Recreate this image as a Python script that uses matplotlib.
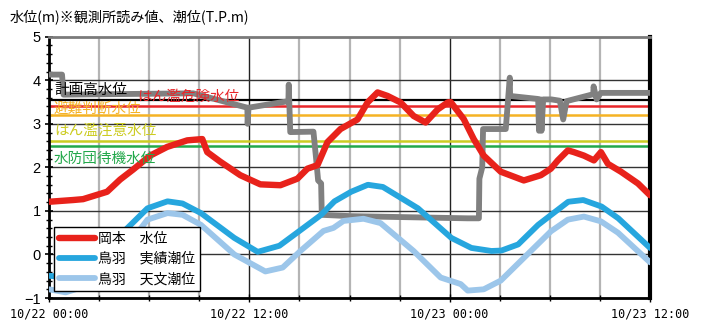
import matplotlib
matplotlib.use("Agg")
from matplotlib import pyplot as plt
from matplotlib.ticker import MultipleLocator

plt.rcParams['font.family'] = ['Noto Sans CJK JP', 'DejaVu Sans']

# hours from 10/22 00:00
okamoto_h = [0, 1.44, 2.04, 3.48, 4.26, 5.04, 6.06, 7.08, 8.28, 9.18, 9.48, 10.26, 11.46,
             12.66, 13.86, 14.88, 15.48, 16.08, 16.68, 17.46, 18.48, 19.08, 19.68, 20.28,
             21.06, 21.84, 22.56, 23.28, 23.88, 24.06, 24.84, 25.44, 26.04, 27.06, 28.44,
             29.46, 30.06, 30.48, 31.08, 31.44, 32.04, 32.64, 33.06, 33.48, 34.26, 35.28, 36.0]
okamoto_v = [1.21, 1.25, 1.27, 1.44, 1.72, 1.95, 2.27, 2.47, 2.62, 2.65, 2.35, 2.13, 1.82,
             1.61, 1.59, 1.74, 1.97, 2.05, 2.58, 2.88, 3.10, 3.49, 3.72, 3.64,
             3.49, 3.18, 3.03, 3.33, 3.49, 3.50, 3.11, 2.65, 2.27, 1.90, 1.70,
             1.82, 1.97, 2.16, 2.39, 2.35, 2.27, 2.16, 2.35, 2.08, 1.90, 1.63, 1.36]

toba_obs_h = [0, 1, 2, 3, 4, 4.6, 5.9, 7.1, 8.0, 9.1, 11.1, 12.5, 13.8, 15.0, 16.3, 17.1,
              18.1, 19.1, 20.0, 22.1, 24.1, 25.3, 26.5, 27.1, 28.1, 29.3, 31.1, 32.0, 33.1,
              34.1, 36.0]
toba_obs_v = [-0.49, -0.52, -0.38, -0.05, 0.35, 0.57, 1.06, 1.22, 1.17, 0.95, 0.38, 0.06,
              0.20, 0.54, 0.91, 1.22, 1.44, 1.60, 1.55, 1.06, 0.38, 0.15, 0.08, 0.09, 0.23,
              0.68, 1.21, 1.25, 1.10, 0.83, 0.15]

toba_ast_h = [0, 1, 2, 3, 4, 5, 5.9, 7.1, 8.0, 9.1, 11.1, 12.96, 14.0, 15.06, 16.44, 17.04,
              17.64, 18.84, 19.86, 21.84, 23.46, 24.66, 25.08, 26.04, 27.06, 30.06, 31.08,
              32.04, 33.06, 34.08, 36.0]
toba_ast_v = [-0.80, -0.87, -0.75, -0.45, -0.05, 0.35, 0.80, 0.95, 0.91, 0.68, 0.0, -0.39,
              -0.30, 0.08, 0.54, 0.61, 0.77, 0.82, 0.72, 0.08, -0.53, -0.68, -0.83, -0.80,
              -0.60, 0.53, 0.80, 0.87, 0.76, 0.50, -0.18]

gray_h = [0, 0.78, 0.87, 8.64, 11.88, 11.9, 11.95, 14.34, 14.36, 14.45, 15.84, 16.0, 16.12,
          16.3, 16.34, 18.06, 25.07, 25.75, 25.78, 25.95, 26.0, 27.36, 27.6, 27.62, 29.3,
          29.35, 29.45, 29.5, 29.6, 30.1, 30.6, 30.8, 31.0, 32.6, 32.62, 32.8, 33.05, 36.0]
gray_v = [4.13, 4.13, 3.67, 3.70, 3.37, 3.00, 3.37, 3.52, 3.90, 2.81, 2.82, 2.20, 1.70,
          1.63, 0.91, 0.88, 0.83, 0.83, 1.74, 2.00, 2.88, 2.88, 4.06, 3.64, 3.57,
          2.84, 3.56, 2.84, 3.56, 3.56, 3.53, 3.10, 3.52, 3.68, 3.86, 3.56, 3.71, 3.71]

level_names = ['計画高水位', 'はん濫危険水位', '避難判断水位', 'はん濫注意水位', '水防団待機水位']
level_values = [3.55, 3.40, 3.20, 2.60, 2.50]
level_colors = ['#000000', '#e8262a', '#f5b324', '#cccc22', '#22a84a']

x_ticks = [0, 12, 24, 36]
x_labels = ['10/22 00:00', '10/22 12:00', '10/23 00:00', '10/23 12:00']

fig = plt.figure(figsize=(7.06, 3.24), dpi=100)
ax = fig.add_axes([0.0694, 0.0802, 0.8513, 0.8065])

# grid
for h in range(3, 36, 3):
    if h % 12 == 0:
        ax.axvline(h, color='#222222', lw=1.0, zorder=1)
    else:
        ax.axvline(h, color='#b4b4b4', lw=1.6, zorder=1)
for v in range(-1, 5):
    ax.axhline(v, color='#333333', lw=1.0, zorder=1)

# level lines
for v, c in zip(level_values, level_colors):
    ax.axhline(v, color=c, lw=1.8 if c != '#000000' else 1.6, zorder=2)

ax.text(0.3, 3.78, level_names[0], color=level_colors[0], fontsize=10.5, va='center', zorder=6)
ax.text(5.3, 3.63, level_names[1], color=level_colors[1], fontsize=10.5, va='center', zorder=6)
ax.text(0.3, 3.34, level_names[2], color=level_colors[2], fontsize=10.5, va='center', zorder=6)
ax.text(0.3, 2.83, level_names[3], color=level_colors[3], fontsize=10.5, va='center', zorder=6)
ax.text(0.3, 2.2, level_names[4], color=level_colors[4], fontsize=10.5, va='center', zorder=6)

kw = dict(solid_capstyle='round', solid_joinstyle='round')
ax.plot(gray_h, gray_v, color='#808080', lw=4.2, zorder=3, **kw)
ax.plot(okamoto_h, okamoto_v, color='#e8221b', lw=4.6, zorder=4, label='岡本　水位', **kw)
ax.plot(toba_obs_h, toba_obs_v, color='#26a6de', lw=4.2, zorder=5, label='鳥羽　実績潮位', **kw)
ax.plot(toba_ast_h, toba_ast_v, color='#9cc6ea', lw=4.2, zorder=5, label='鳥羽　天文潮位', **kw)

ax.set_xlim(0, 36)
ax.set_ylim(-1, 5)
ax.set_xticks(x_ticks)
ax.set_xticklabels(x_labels, family='DejaVu Sans Mono', fontsize=8.5)
ax.xaxis.set_minor_locator(MultipleLocator(3))
ax.set_yticks(range(-1, 6))
ax.set_yticklabels(['−1', '0', '1', '2', '3', '4', '5'], family='Liberation Sans', fontsize=10.5)
ax.yaxis.set_minor_locator(MultipleLocator(0.2))
ax.tick_params(axis='x', which='major', length=6, width=1, direction='inout', pad=4)
ax.tick_params(axis='x', which='minor', length=4, width=1, direction='inout')
ax.tick_params(axis='y', which='major', length=6, width=1.2, direction='inout', pad=3)
ax.tick_params(axis='y', which='minor', length=4, width=1, direction='inout')

ax.spines['top'].set_color('#7a7a7a')
ax.spines['top'].set_linewidth(2)
ax.spines['left'].set_linewidth(2)
ax.spines['bottom'].set_linewidth(2)
ax.spines['right'].set_linewidth(3)

leg = ax.legend(loc='lower left', bbox_to_anchor=(0.008, 0.027), fontsize=10, frameon=True,
                fancybox=False, edgecolor='#000000', framealpha=1, handlelength=2.6,
                handletextpad=0.2, borderpad=0.35, labelspacing=0.45, borderaxespad=0)
leg.get_frame().set_linewidth(1.0)
leg.set_zorder(10)

fig.text(0.014, 0.947, '水位(m)※観測所読み値、潮位(T.P.m)', fontsize=10.2, va='center')

fig.savefig('out.png', dpi=100)
